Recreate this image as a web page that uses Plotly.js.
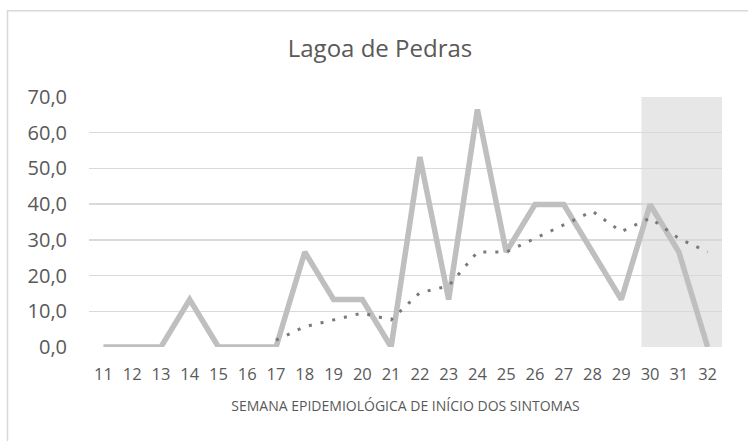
<!DOCTYPE html>
<html>
<head>
<meta charset="utf-8">
<script src="https://cdn.plot.ly/plotly-3.0.1.min.js"></script>
<style>html,body{margin:0;padding:0;background:#fff;}#chart{width:748px;height:441px;}</style>
</head>
<body>
<div id="chart"></div>
<script>
const weeks = [11,12,13,14,15,16,17,18,19,20,21,22,23,24,25,26,27,28,29,30,31,32];
const rate = [0,0,0,13.3,0,0,0,26.6,13.3,13.3,0,53.2,13.3,66.5,26.6,39.9,39.9,26.6,13.3,39.9,26.6,0];
const trendWeeks = [17,18,19,20,21,22,23,24,25,26,27,28,29,30,31,32];
const trend = [1.9,5.7,7.6,9.5,7.6,15.2,17.1,26.6,26.6,30.4,34.2,38.0,32.3,36.1,30.4,26.6];
const yTicks = [0,10,20,30,40,50,60,70];
const shadeStart = 29.7, shadeEnd = 32.5;

const L = 88.6, R = 25.6, T = 96.5, B = 93.5, W = 748, H = 441;
const pw = W - L - R, ph = H - T - B;
const px = v => (v - L) / pw;
const py = v => 1 - (v - T) / ph;

const data = [
  {x: weeks, y: rate, type: 'scatter', mode: 'lines',
   line: {color: '#BFBFBF', width: 5.5, shape: 'linear'}, hoverinfo: 'none'},
  {x: trendWeeks, y: trend, type: 'scatter', mode: 'lines',
   line: {color: '#7A7A7A', width: 3, dash: '3px,9px'}, hoverinfo: 'none'}
];

const layout = {
  width: W, height: H,
  margin: {l: L, r: R, t: T, b: B, pad: 0},
  paper_bgcolor: '#fff', plot_bgcolor: 'rgba(0,0,0,0)',
  showlegend: false,
  separators: ',.',
  font: {family: 'Open Sans, sans-serif', color: '#595959'},
  title: {text: 'Lagoa de Pedras', x: 0.508, xanchor: 'center', y: 1 - 49/H, yanchor: 'middle',
          font: {size: 24, color: '#595959', family: 'Open Sans, sans-serif'}},
  xaxis: {range: [10.5, 32.5], tickmode: 'array', tickvals: weeks, ticktext: weeks.map(String),
          showgrid: false, zeroline: false, showline: false, ticks: '',
          tickfont: {size: 16.5, color: '#595959'}, ticklabelstandoff: 15,
          title: {text: 'SEMANA EPIDEMIOLÓGICA DE INÍCIO DOS SINTOMAS', standoff: 17,
                  font: {size: 14, color: '#595959'}}},
  yaxis: {range: [0, 70], tickmode: 'array', tickvals: yTicks, tickformat: '.1f',
          showgrid: true, gridcolor: '#D9D9D9', gridwidth: 1.5, zeroline: false, showline: false,
          ticks: '', tickfont: {size: 20, color: '#595959'}, ticklabelstandoff: 21},
  shapes: [
    {type: 'rect', xref: 'x', yref: 'y', x0: shadeStart, x1: shadeEnd, y0: 0, y1: 70,
     fillcolor: '#E7E7E7', line: {width: 0}, layer: 'below'},
    {type: 'rect', xref: 'paper', yref: 'paper', x0: px(7), x1: px(760), y0: py(10), y1: py(460),
     fillcolor: 'rgba(0,0,0,0)', line: {color: '#D9D9D9', width: 1.5}, layer: 'below'}
  ]
};

Plotly.newPlot('chart', data, layout, {displayModeBar: false, staticPlot: true});
</script>
</body>
</html>
